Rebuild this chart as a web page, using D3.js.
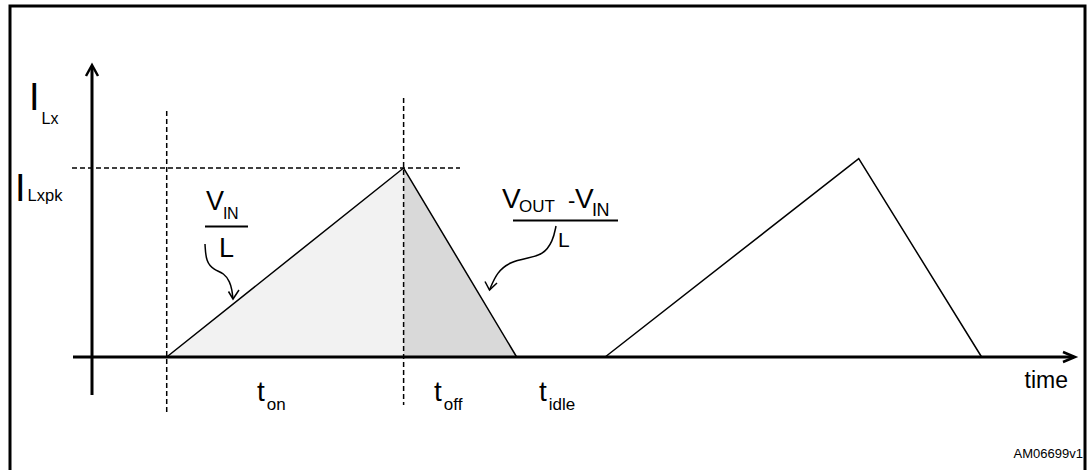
<!DOCTYPE html>
<html>
<head>
<meta charset="utf-8">
<script src="https://cdn.jsdelivr.net/npm/d3@7"></script>
<style>
  html, body { margin: 0; padding: 0; background: #fff; }
  text { font-family: Arial, "Liberation Sans", Helvetica, sans-serif; fill: #000; }
</style>
</head>
<body>
<svg id="chart"></svg>
<script>
// inductor current waveform, time in arbitrary units, current relative to I_Lxpk
var firstPulse = [
  { t: 7.6, i: 0 },
  { t: 31.7, i: 1 },
  { t: 43.2, i: 0 }
];
var secondPulse = [
  { t: 52.2, i: 0 },
  { t: 78.0, i: 1.05 },
  { t: 90.5, i: 0 }
];
var phaseNames = ["on", "off", "idle"];
var yLabels = ["Lx", "Lxpk"];

var width = 1090, height = 470;

var svg = d3.select("#chart")
  .attr("width", width)
  .attr("height", height);

var x = d3.scaleLinear().domain([0, 100]).range([92, 1075]);
var y = d3.scaleLinear().domain([0, 1]).range([357, 168]);

// outer frame (bottom edge runs off the picture)
svg.append("rect")
  .attr("x", 10).attr("y", 6)
  .attr("width", 1075).attr("height", 480)
  .attr("fill", "none")
  .attr("stroke", "#000")
  .attr("stroke-width", 3);

var line = d3.line().x(function(d) { return x(d.t); }).y(function(d) { return y(d.i); });

// shaded areas of the first pulse
var p0 = firstPulse[0], pk = firstPulse[1], p1 = firstPulse[2];
svg.append("path")
  .attr("d", line([p0, pk, { t: pk.t, i: 0 }]) + "Z")
  .attr("fill", "#f2f2f2");
svg.append("path")
  .attr("d", line([{ t: pk.t, i: 0 }, pk, p1]) + "Z")
  .attr("fill", "#d9d9d9");

// dashed guides
var dash = "5,3";
svg.append("line")
  .attr("x1", x(p0.t)).attr("x2", x(p0.t))
  .attr("y1", 111).attr("y2", 415)
  .attr("stroke", "#000").attr("stroke-width", 1.5)
  .attr("stroke-dasharray", dash);
svg.append("line")
  .attr("x1", x(pk.t)).attr("x2", x(pk.t))
  .attr("y1", 98).attr("y2", 405)
  .attr("stroke", "#000").attr("stroke-width", 1.5)
  .attr("stroke-dasharray", dash);
svg.append("line")
  .attr("x1", 72).attr("x2", 460)
  .attr("y1", y(pk.i)).attr("y2", y(pk.i))
  .attr("stroke", "#000").attr("stroke-width", 1.5)
  .attr("stroke-dasharray", dash);

// waveform
[firstPulse, secondPulse].forEach(function(p) {
  svg.append("path")
    .attr("d", line(p))
    .attr("fill", "none")
    .attr("stroke", "#000")
    .attr("stroke-width", 1.5)
    .attr("stroke-linejoin", "miter");
});

// axes
var axisG = svg.append("g").attr("stroke", "#000").attr("fill", "none")
  .attr("stroke-width", 3);
axisG.append("line")
  .attr("x1", x(0)).attr("x2", x(0))
  .attr("y1", 395).attr("y2", 66);
axisG.append("path")
  .attr("d", "M" + (x(0) - 6) + ",76 L" + x(0) + ",65 L" + (x(0) + 6) + ",76")
  .attr("stroke-width", 2.5);
axisG.append("line")
  .attr("x1", 73).attr("x2", x(100) - 1)
  .attr("y1", y(0)).attr("y2", y(0));
axisG.append("path")
  .attr("d", "M" + (x(100) - 12) + "," + (y(0) - 5) + " L" + x(100) + "," + y(0) +
    " L" + (x(100) - 12) + "," + (y(0) + 5))
  .attr("stroke-width", 2.5);

// y labels
function subLabel(tx, ty, main, sub, mainSize, subSize, subDx, subDy) {
  var t = svg.append("text").attr("x", tx).attr("y", ty);
  t.append("tspan").style("font-size", mainSize + "px").text(main);
  t.append("tspan").attr("dx", subDx).attr("dy", subDy)
    .style("font-size", subSize + "px").text(sub);
  return t;
}
subLabel(29, 110, "I", yLabels[0], 38, 16, 2, 14);
subLabel(15, 201, "I", yLabels[1], 38, 16.5, 2, 0);

// slope annotations
svg.append("text").attr("x", 206).attr("y", 210).style("font-size", "27px").text("V");
svg.append("text").attr("x", 223).attr("y", 219).style("font-size", "16px")
  .style("letter-spacing", "-0.5px").text("IN");
svg.append("line").attr("x1", 205).attr("x2", 248).attr("y1", 226.5).attr("y2", 226.5)
  .attr("stroke", "#000").attr("stroke-width", 2);
svg.append("text").attr("x", 219).attr("y", 257).style("font-size", "27px").text("L");

svg.append("text").attr("x", 502).attr("y", 208).style("font-size", "28px").text("V");
svg.append("text").attr("x", 519).attr("y", 212).style("font-size", "17px").text("OUT");
svg.append("text").attr("x", 568).attr("y", 208).style("font-size", "22px").text("-");
svg.append("text").attr("x", 575).attr("y", 208).style("font-size", "28px").text("V");
svg.append("text").attr("x", 592).attr("y", 216).style("font-size", "18px")
  .style("letter-spacing", "-0.5px").text("IN");
svg.append("line").attr("x1", 513).attr("x2", 618).attr("y1", 220.5).attr("y2", 220.5)
  .attr("stroke", "#000").attr("stroke-width", 2);
svg.append("text").attr("x", 558).attr("y", 247).style("font-size", "21px").text("L");

var curve = d3.line().curve(d3.curveBasis);
function curvedArrow(pts, arms) {
  svg.append("path").attr("d", curve(pts))
    .attr("fill", "none").attr("stroke", "#000").attr("stroke-width", 1.5);
  var tip = pts[pts.length - 1];
  svg.append("path")
    .attr("d", "M" + arms[0] + " L" + tip + " L" + arms[1])
    .attr("fill", "none").attr("stroke", "#000").attr("stroke-width", 1.5);
}
curvedArrow(
  [[205, 244], [206, 262], [214, 270], [224, 273], [230, 282], [232, 290], [233, 299]],
  [[228.5, 291.5], [239, 290]]
);
curvedArrow(
  [[556, 226], [553, 241], [543, 255], [527, 258], [510, 262], [497, 272], [489.5, 290]],
  [[485, 281.5], [497, 283]]
);

// phase labels
var phaseX = [257, 434, 539];
phaseNames.forEach(function(n, k) {
  var t = svg.append("text").attr("x", phaseX[k]).attr("y", 401);
  t.append("tspan").style("font-size", "28px").text("t");
  t.append("tspan").attr("dx", 2).attr("dy", 9).style("font-size", "17px").text(n);
});

svg.append("text").attr("x", 1068).attr("y", 388)
  .attr("text-anchor", "end").style("font-size", "23px").text("time");
svg.append("text").attr("x", 1083).attr("y", 458)
  .attr("text-anchor", "end").style("font-size", "13px").text("AM06699v1");
</script>
</body>
</html>
